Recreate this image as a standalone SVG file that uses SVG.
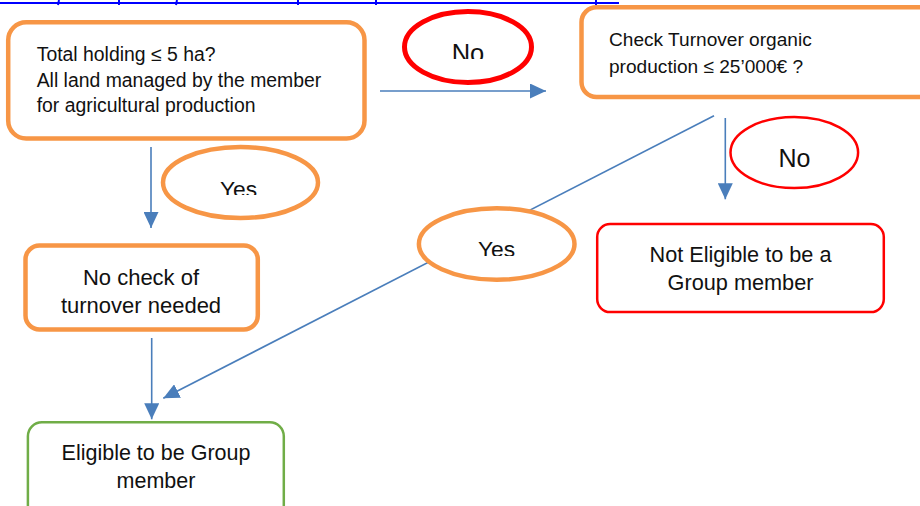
<svg xmlns="http://www.w3.org/2000/svg" width="920" height="506" viewBox="0 0 920 506">
<style>
.t{font-family:"Liberation Sans",Arial,sans-serif;fill:#111;}
.ob{fill:#fff;stroke:#F79646;stroke-width:4.5;}
.rb{fill:#fff;stroke:#FF0000;stroke-width:2.5;}
.gb{fill:#fff;stroke:#70AD47;stroke-width:2.5;}
.oe{fill:#fff;stroke:#F79646;stroke-width:4.5;}
.re{fill:#fff;stroke:#FF0000;stroke-width:5;}
.re2{fill:#fff;stroke:#FF0000;stroke-width:2.5;}
.c{fill:none;stroke:#4A7EBB;stroke-width:1.6;marker-end:url(#ah);}
.link{stroke:#0000FF;stroke-width:2;fill:none;}
</style>
<defs>
<marker id="ah" markerUnits="userSpaceOnUse" markerWidth="16" markerHeight="15" refX="16" refY="7.5" orient="auto">
<path d="M0,0 L16,7.5 L0,15 z" fill="#4A7EBB"/>
</marker>
<clipPath id="cNo"><rect x="400" y="0" width="140" height="59"/></clipPath>
<clipPath id="cYes1"><rect x="150" y="140" width="180" height="55"/></clipPath>
<clipPath id="cYes2"><rect x="410" y="200" width="180" height="56"/></clipPath>
</defs>
<rect width="920" height="506" fill="#fff"/>
<g id="link">
<line class="link" x1="0" y1="3" x2="619" y2="3"/>
<path class="link" d="M59,0 L58,5 M119,0 L119,5 M177,0 L176,5 M298,0 L298,5 M376,0 L376,5 M596,0 L596,5" stroke-width="1.5"/>
</g>
<g id="connectors">
<line class="c" x1="380" y1="91" x2="546" y2="91"/>
<line class="c" x1="151" y1="147" x2="151" y2="228"/>
<line class="c" x1="725.3" y1="118" x2="725.3" y2="199.3"/>
<line class="c" x1="714" y1="115.7" x2="163.3" y2="398.3"/>
<line class="c" x1="151.7" y1="338" x2="151.7" y2="419.3"/>
</g>
<g id="box1">
<rect class="ob" x="8.2" y="22.2" width="356.3" height="116.3" rx="18"/>
<text class="t" font-size="19.4" x="36.7" y="60.7">Total holding ≤ 5 ha?</text>
<text class="t" font-size="19.4" x="36.7" y="86.7">All land managed by the member</text>
<text class="t" font-size="19.4" x="36.7" y="111.7">for agricultural production</text>
</g>
<g id="box2">
<rect class="ob" x="581.5" y="7.2" width="360" height="89.9" rx="15"/>
<text class="t" font-size="19.1" x="609" y="45.7">Check Turnover organic</text>
<text class="t" font-size="19.1" x="609" y="72.7">production ≤ 25’000€ ?</text>
</g>
<g id="labelNo1">
<ellipse class="re" cx="468" cy="47" rx="63.5" ry="35.5"/>
<text class="t" font-size="25.5" x="468" y="61.7" text-anchor="middle" clip-path="url(#cNo)">No</text>
</g>
<g id="labelYes1">
<ellipse class="oe" cx="240.5" cy="182.5" rx="77.5" ry="35.5"/>
<text class="t" font-size="22.8" x="238.5" y="197" text-anchor="middle" clip-path="url(#cYes1)">Yes</text>
</g>
<g id="labelYes2">
<ellipse class="oe" cx="496.7" cy="244" rx="77.8" ry="35.8"/>
<text class="t" font-size="22.8" x="496.5" y="257" text-anchor="middle" clip-path="url(#cYes2)">Yes</text>
</g>
<g id="labelNo2">
<ellipse class="re2" cx="794.3" cy="152.5" rx="63.8" ry="35.6"/>
<text class="t" font-size="25" x="794.5" y="166.7" text-anchor="middle">No</text>
</g>
<g id="box3">
<rect class="ob" x="25.5" y="245.5" width="232.3" height="84" rx="14"/>
<text class="t" font-size="22" x="141" y="285" text-anchor="middle">No check of</text>
<text class="t" font-size="22" x="141" y="313.3" text-anchor="middle">turnover needed</text>
</g>
<g id="box4">
<rect class="rb" x="597.2" y="224" width="286.6" height="88.1" rx="13"/>
<text class="t" font-size="21.7" x="740.5" y="261.7" text-anchor="middle">Not Eligible to be a</text>
<text class="t" font-size="21.7" x="740.5" y="290" text-anchor="middle">Group member</text>
</g>
<g id="box5">
<rect class="gb" x="27.9" y="422.2" width="255.9" height="100" rx="14"/>
<text class="t" font-size="21.5" x="156" y="460" text-anchor="middle">Eligible to be Group</text>
<text class="t" font-size="21.5" x="156" y="488.3" text-anchor="middle">member</text>
</g>
</svg>
